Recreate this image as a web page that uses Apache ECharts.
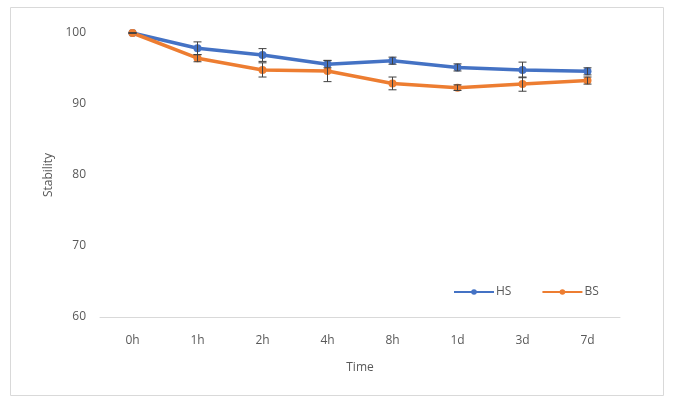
<!DOCTYPE html>
<html>
<head>
<meta charset="utf-8">
<script src="https://cdn.jsdelivr.net/npm/echarts@6/dist/echarts.min.js"></script>
<style>html,body{margin:0;padding:0;background:#fff;}#c{width:684px;height:410px;}</style>
</head>
<body>
<div id="c"></div>
<script>
var categories = ['0h', '1h', '2h', '4h', '8h', '1d', '3d', '7d'];
var hsValues = [100, 97.85, 96.9, 95.6, 96.1, 95.15, 94.8, 94.6];
var hsErrors = [0, 0.9, 0.9, 0.5, 0.5, 0.5, 1.1, 0.5];
var bsValues = [100, 96.45, 94.8, 94.65, 92.9, 92.3, 92.8, 93.3];
var bsErrors = [0, 0.5, 1.0, 1.5, 0.9, 0.4, 1.0, 0.5];
var yTicks = [60, 70, 80, 90, 100];

function errData(vals, errs) {
  return vals.map(function (v, i) { return [i, v - errs[i], v + errs[i]]; });
}
function errRender(params, api) {
  var x = api.value(0);
  var lo = api.coord([x, api.value(1)]);
  var hi = api.coord([x, api.value(2)]);
  var w = 4;
  var st = { stroke: '#404040', lineWidth: 1 };
  return {
    type: 'group',
    children: [
      { type: 'line', shape: { x1: lo[0], y1: lo[1], x2: hi[0], y2: hi[1] }, style: st },
      { type: 'line', shape: { x1: lo[0] - w, y1: lo[1], x2: lo[0] + w, y2: lo[1] }, style: st },
      { type: 'line', shape: { x1: hi[0] - w, y1: hi[1], x2: hi[0] + w, y2: hi[1] }, style: st }
    ]
  };
}

var chart = echarts.init(document.getElementById('c'));
var font = '"Open Sans", "Noto Sans", sans-serif';
chart.setOption({
  animation: false,
  textStyle: { fontFamily: font },
  graphic: [{
    type: 'rect', shape: { x: 10.5, y: 7.5, width: 653, height: 388 },
    style: { fill: 'none', stroke: '#d9d9d9', lineWidth: 1 }, silent: true
  }],
  grid: { left: 100, right: 64, top: 33, bottom: 93 },
  legend: {
    left: 448, top: 281, itemWidth: 40, itemHeight: 7, itemGap: 30,
    textStyle: { color: '#595959', fontSize: 12, fontFamily: font, padding: [0, 0, 0, -3] },
    data: ['HS', 'BS']
  },
  xAxis: {
    type: 'category', data: categories, boundaryGap: true,
    name: 'Time', nameLocation: 'middle', nameGap: 45,
    nameTextStyle: { color: '#595959', fontSize: 12, fontFamily: font },
    axisLine: { lineStyle: { color: '#d9d9d9', width: 1 } },
    axisTick: { show: false },
    axisLabel: { color: '#595959', fontSize: 12, margin: 18, fontFamily: font }
  },
  yAxis: {
    type: 'value', min: yTicks[0], max: yTicks[yTicks.length - 1], interval: 10,
    name: 'Stability', nameLocation: 'middle', nameGap: 45,
    nameTextStyle: { color: '#595959', fontSize: 12, fontFamily: font },
    axisLine: { show: false }, axisTick: { show: false }, splitLine: { show: false },
    axisLabel: { color: '#595959', fontSize: 12, margin: 14, fontFamily: font }
  },
  series: [
    {
      name: 'HS', type: 'line', data: hsValues, symbol: 'circle', symbolSize: 8,
      lineStyle: { color: '#4472C4', width: 3.5 }, itemStyle: { color: '#4472C4' }, z: 3
    },
    {
      name: 'BS', type: 'line', data: bsValues, symbol: 'circle', symbolSize: 8,
      lineStyle: { color: '#ED7D31', width: 3.5 }, itemStyle: { color: '#ED7D31' }, z: 3
    },
    { type: 'custom', renderItem: errRender, data: errData(hsValues, hsErrors), z: 5, silent: true },
    { type: 'custom', renderItem: errRender, data: errData(bsValues, bsErrors), z: 5, silent: true }
  ]
});
</script>
</body>
</html>
